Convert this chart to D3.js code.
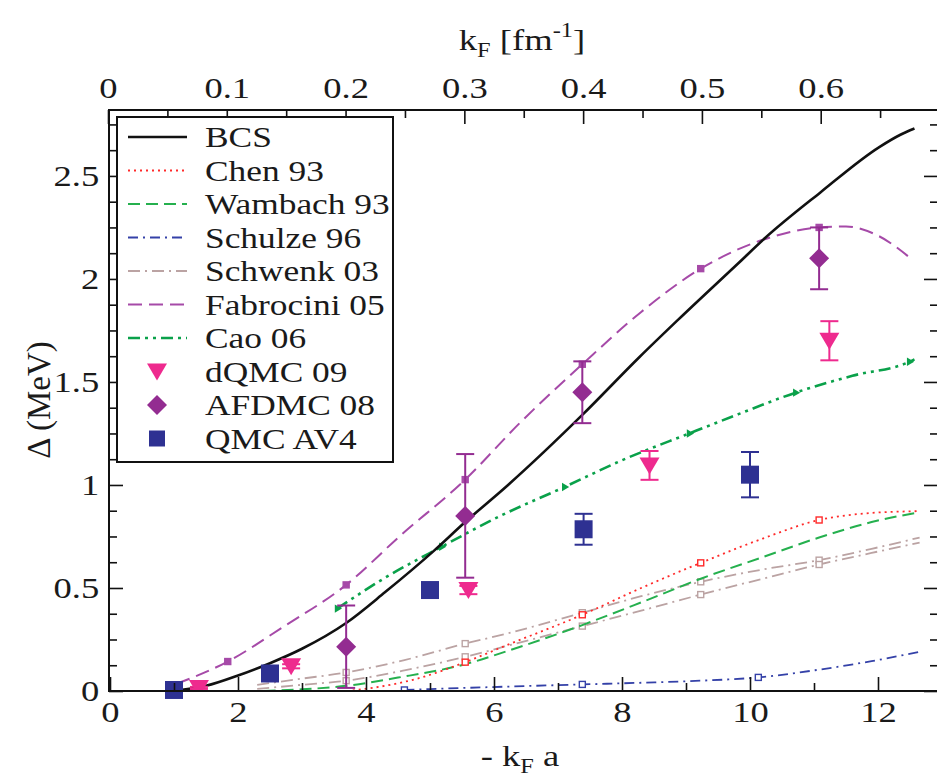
<!DOCTYPE html>
<html>
<head>
<meta charset="utf-8">
<script src="https://cdn.jsdelivr.net/npm/d3@7/dist/d3.min.js"></script>
<style>
  body { margin: 0; background: #fff; }
  svg text { font-family: "Liberation Serif", "Times New Roman", serif; fill: #1a1a1a; }
</style>
</head>
<body>
<svg id="chart" width="937" height="782"></svg>
<script>
// ---- values: [ -kF a , gap in MeV ] ----
const bcs = [[1.0,0.0],[1.5,0.025],[2.0,0.075],[2.5,0.135],[3.0,0.205],[3.69,0.33],[4.3,0.48],[5.06,0.68],[5.55,0.82],
  [6.22,1.0],[7.38,1.34],[8.27,1.62],[8.87,1.8],[9.83,2.08],[10.24,2.2],[11.1,2.42],[12.02,2.64],[12.35,2.7],[12.57,2.73]];
const chen93 = [[3.7,0.0],[4.2,0.02],[4.8,0.06],[5.55,0.14],[6.22,0.225],[7.38,0.37],[8.3,0.5],[9.23,0.622],
  [10.2,0.74],[11.08,0.83],[11.8,0.862],[12.65,0.873]];
const chen93Marks = [[5.55,0.14],[7.38,0.37],[9.23,0.622],[11.08,0.83]];
const wambach93 = [[2.4,0.0],[3.0,0.008],[3.69,0.025],[4.5,0.065],[5.55,0.13],[6.22,0.195],[7.38,0.32],[8.3,0.43],
  [9.23,0.545],[10.2,0.65],[11.08,0.745],[11.9,0.82],[12.65,0.868]];
const schulze96 = [[4.6,0.005],[5.55,0.015],[6.5,0.024],[7.38,0.032],[8.3,0.04],[9.23,0.05],[10.13,0.066],
  [11.0,0.1],[11.9,0.145],[12.65,0.19]];
const schulze96Marks = [[4.6,0.005],[7.38,0.032],[10.13,0.066]];
const schwenk03Hi = [[2.3,0.03],[3.0,0.06],[3.69,0.09],[4.6,0.15],[5.55,0.23],[6.22,0.28],[7.38,0.38],[8.3,0.46],
  [9.23,0.53],[10.2,0.59],[11.08,0.635],[11.9,0.69],[12.65,0.745]];
const schwenk03Lo = [[2.3,0.01],[3.0,0.03],[3.69,0.05],[4.6,0.1],[5.55,0.166],[6.22,0.22],[7.38,0.315],[8.3,0.39],
  [9.23,0.468],[10.2,0.545],[11.08,0.614],[11.9,0.67],[12.65,0.72]];
const schwenk03Marks = [[3.69,0.09],[5.55,0.23],[7.38,0.38],[9.23,0.53],[11.08,0.635],
  [3.69,0.05],[5.55,0.166],[7.38,0.315],[9.23,0.468],[11.08,0.614]];
const fabrocini05 = [[1.04,0.035],[1.84,0.143],[2.7,0.31],[3.69,0.515],[4.54,0.755],[5.55,1.026],[6.4,1.3],
  [7.38,1.586],[8.3,1.84],[9.23,2.05],[10.2,2.19],[11.08,2.25],[11.5,2.255],[12.0,2.21],[12.55,2.09]];
const fabrocini05Marks = [[1.84,0.143],[3.69,0.515],[5.55,1.026],[7.38,1.586],[9.23,2.05],[11.08,2.25]];
const cao06 = [[3.55,0.4],[4.3,0.55],[5.18,0.7],[6.1,0.85],[7.1,0.99],[8.0,1.12],[9.05,1.25],[9.83,1.345],
  [10.71,1.448],[11.6,1.53],[12.49,1.598],[12.57,1.61]];
const cao06Marks = [[3.55,0.4],[5.18,0.7],[7.1,0.99],[9.05,1.25],[10.71,1.448],[12.49,1.598]];

// points with error bars: x, y, err
const dqmc09 = [[1.39,0.015,0.005],[2.83,0.12,0.01],[5.6,0.49,0.02],[8.43,1.095,0.07],[11.24,1.7,0.095]];
const afdmc08 = [[3.69,0.215,0.2],[5.55,0.85,0.3],[7.38,1.45,0.15],[11.08,2.1,0.15]];
const qmcAv4 = [[1.0,0.005,0],[2.5,0.085,0],[5.0,0.49,0],[7.4,0.785,0.075],[10.0,1.05,0.11]];

const xMajor = [0,2,4,6,8,10,12];
const xMinor = [1,3,5,7,9,11];
const kfMajor = [0,0.1,0.2,0.3,0.4,0.5,0.6];
const kfMinor = [0.05,0.15,0.25,0.35,0.45,0.55,0.65];
const yMajor = [0,0.5,1,1.5,2,2.5];
const yMinor = [0.125,0.25,0.375,0.625,0.75,0.875,1.125,1.25,1.375,1.625,1.75,1.875,2.125,2.25,2.375,2.625,2.75];

const legendNames = ["BCS","Chen 93","Wambach 93","Schulze 96","Schwenk 03","Fabrocini 05","Cao 06","dQMC 09","AFDMC 08","QMC AV4"];

// ---- layout ----
const plotL = 109, plotR = 938, plotT = 110, plotB = 691;
const stretch = "scale(1.22,1)";
const svg = d3.select('#chart');

const x = d3.scaleLinear().domain([0, 12]).range([110, 878]);
const kf = d3.scaleLinear().domain([0, 0.6]).range([108, 820.7]);
const y = d3.scaleLinear().domain([0, 2.82]).range([plotB, plotT]);

const colors = {
  bcs: '#111', chen: '#ff2a2a', wambach: '#25b04e', schulze: '#3441a8', schwenk: '#bba3a3',
  fabrocini: '#a64aa8', cao: '#0aa14a', dqmc: '#ee2a8e', afdmc: '#932c91', qmc: '#2e3192'
};
const styles = {
  bcs: {w: 2.6, dash: null},
  chen: {w: 1.8, dash: '2,4'},
  wambach: {w: 2, dash: '12,6'},
  schulze: {w: 1.8, dash: '10,5,2,5'},
  schwenk: {w: 1.8, dash: '12,5,2,5'},
  fabrocini: {w: 2, dash: '14,7'},
  cao: {w: 2.6, dash: '12,5,3,5,3,5'}
};

svg.append('clipPath').attr('id', 'plotClip')
  .append('rect').attr('x', plotL).attr('y', plotT).attr('width', plotR - plotL).attr('height', plotB - plotT);

const plot = svg.append('g').attr('clip-path', 'url(#plotClip)');
const line = d3.line().x(d => x(d[0])).y(d => y(d[1])).curve(d3.curveMonotoneX);

function drawCurve(data, key) {
  plot.append('path').datum(data)
    .attr('d', line)
    .attr('fill', 'none')
    .attr('stroke', colors[key])
    .attr('stroke-width', styles[key].w)
    .attr('stroke-dasharray', styles[key].dash);
}
function drawSmallSquares(data, key, filled) {
  plot.selectAll(null).data(data).enter().append('rect')
    .attr('x', d => x(d[0]) - 3).attr('y', d => y(d[1]) - 3)
    .attr('width', 6).attr('height', 6)
    .attr('fill', filled ? colors[key] : '#fff')
    .attr('stroke', colors[key]).attr('stroke-width', 1.4);
}

drawCurve(schulze96, 'schulze');
drawSmallSquares(schulze96Marks, 'schulze', false);
drawCurve(schwenk03Hi, 'schwenk');
drawCurve(schwenk03Lo, 'schwenk');
drawSmallSquares(schwenk03Marks, 'schwenk', false);
drawCurve(wambach93, 'wambach');
drawCurve(chen93, 'chen');
drawSmallSquares(chen93Marks, 'chen', false);
drawCurve(cao06, 'cao');
plot.selectAll(null).data(cao06Marks).enter().append('path')
  .attr('d', d3.symbol(d3.symbolTriangle, 30))
  .attr('transform', d => 'translate(' + x(d[0]) + ',' + y(d[1]) + ') rotate(-30)')
  .attr('fill', colors.cao);
drawCurve(fabrocini05, 'fabrocini');
drawSmallSquares(fabrocini05Marks, 'fabrocini', true);
drawCurve(bcs, 'bcs');

// error bars
function errBars(data, key) {
  const g = plot.append('g').attr('stroke', colors[key]).attr('stroke-width', 2).attr('fill', 'none');
  data.filter(d => d[2] > 0).forEach(d => {
    g.append('line').attr('x1', x(d[0])).attr('x2', x(d[0])).attr('y1', y(d[1] - d[2])).attr('y2', y(d[1] + d[2]));
    [d[1] - d[2], d[1] + d[2]].forEach(v => {
      g.append('line').attr('x1', x(d[0]) - 9).attr('x2', x(d[0]) + 9).attr('y1', y(v)).attr('y2', y(v));
    });
  });
}
errBars(afdmc08, 'afdmc');
errBars(dqmc09, 'dqmc');
errBars(qmcAv4, 'qmc');

const triDown = 'M-10,-8L10,-8L0,9Z';
const diamond = 'M0,-10L10,0L0,10L-10,0Z';
const square = 'M-9,-9H9V9H-9Z';

plot.selectAll(null).data(afdmc08).enter().append('path')
  .attr('d', diamond).attr('transform', d => 'translate(' + x(d[0]) + ',' + y(d[1]) + ')')
  .attr('fill', colors.afdmc);
plot.selectAll(null).data(dqmc09).enter().append('path')
  .attr('d', triDown).attr('transform', d => 'translate(' + x(d[0]) + ',' + y(d[1]) + ')')
  .attr('fill', colors.dqmc);
svg.selectAll(null).data(qmcAv4).enter().append('path')
  .attr('d', square).attr('transform', d => 'translate(' + x(d[0]) + ',' + y(d[1]) + ')')
  .attr('fill', colors.qmc);

// ---- axes ----
function styleAxis(g) {
  g.select('.domain').remove();
  g.selectAll('line').attr('stroke', '#111').attr('stroke-width', 1.6);
  g.selectAll('text').attr('font-size', 30).attr('fill', '#1a1a1a')
    .attr('font-family', '"Liberation Serif", serif');
}
const fmt = d => d === 0 ? '0' : String(d);

svg.append('g').attr('transform', 'translate(0,' + plotB + ')')
  .call(d3.axisBottom(x).tickValues(xMajor).tickSize(-14).tickPadding(10).tickFormat(fmt))
  .call(styleAxis)
  .call(g => g.selectAll('text').attr('transform', stretch));
svg.append('g').attr('transform', 'translate(0,' + plotB + ')')
  .call(d3.axisBottom(x).tickValues(xMinor).tickSize(-8).tickFormat(''))
  .call(styleAxis);

svg.append('g').attr('transform', 'translate(0,' + plotT + ')')
  .call(d3.axisTop(kf).tickValues(kfMajor).tickSize(-14).tickPadding(12).tickFormat(fmt))
  .call(styleAxis)
  .call(g => g.selectAll('text').attr('transform', stretch));
svg.append('g').attr('transform', 'translate(0,' + plotT + ')')
  .call(d3.axisTop(kf).tickValues(kfMinor).tickSize(-8).tickFormat(''))
  .call(styleAxis);

svg.append('g').attr('transform', 'translate(' + plotL + ',0)')
  .call(d3.axisLeft(y).tickValues(yMajor).tickSize(-14).tickPadding(8).tickFormat(fmt))
  .call(styleAxis)
  .call(g => g.selectAll('text').attr('transform', stretch));
svg.append('g').attr('transform', 'translate(' + plotL + ',0)')
  .call(d3.axisLeft(y).tickValues(yMinor).tickSize(-8).tickFormat(''))
  .call(styleAxis);
svg.append('g').attr('transform', 'translate(' + plotR + ',0)')
  .call(d3.axisRight(y).tickValues(yMajor).tickSize(-14).tickFormat(''))
  .call(styleAxis);
svg.append('g').attr('transform', 'translate(' + plotR + ',0)')
  .call(d3.axisRight(y).tickValues(yMinor).tickSize(-8).tickFormat(''))
  .call(styleAxis);

svg.append('rect').attr('x', plotL).attr('y', plotT).attr('width', plotR - plotL).attr('height', plotB - plotT)
  .attr('fill', 'none').attr('stroke', '#111').attr('stroke-width', 2);

// ---- axis titles ----
const topTitle = svg.append('g').attr('transform', 'translate(522,50)')
  .append('text').attr('text-anchor', 'middle').attr('font-size', 30).attr('transform', stretch);
topTitle.append('tspan').text('k');
topTitle.append('tspan').attr('font-size', 20).attr('dy', 7).text('F');
topTitle.append('tspan').attr('dy', -7).text(' [fm');
topTitle.append('tspan').attr('font-size', 20).attr('dy', -13).text('-1');
topTitle.append('tspan').attr('dy', 13).text(']');

const botTitle = svg.append('g').attr('transform', 'translate(520,766)')
  .append('text').attr('text-anchor', 'middle').attr('font-size', 30).attr('transform', stretch);
botTitle.append('tspan').text('- k');
botTitle.append('tspan').attr('font-size', 20).attr('dy', 7).text('F');
botTitle.append('tspan').attr('dy', -7).text(' a');

svg.append('text').attr('transform', 'translate(50,400) rotate(-90)')
  .attr('text-anchor', 'middle').attr('font-size', 33).text('\u0394 (MeV)');

// ---- legend ----
const lg = svg.append('g');
lg.append('rect').attr('x', 117).attr('y', 117).attr('width', 276).attr('height', 345)
  .attr('fill', '#fff').attr('stroke', '#111').attr('stroke-width', 2);
const lineKeys = ['bcs','chen','wambach','schulze','schwenk','fabrocini','cao'];
const markKeys = ['dqmc','afdmc','qmc'];
const markPaths = [triDown, diamond, 'M-8,-8H8V8H-8Z'];
legendNames.forEach((name, i) => {
  const cy = 137 + i * 33.5;
  if (i < lineKeys.length) {
    const k = lineKeys[i];
    lg.append('line').attr('x1', 128).attr('x2', 187).attr('y1', cy).attr('y2', cy)
      .attr('stroke', colors[k]).attr('stroke-width', styles[k].w).attr('stroke-dasharray', styles[k].dash);
  } else {
    const j = i - lineKeys.length;
    lg.append('path').attr('d', markPaths[j]).attr('transform', 'translate(157,' + cy + ')')
      .attr('fill', colors[markKeys[j]]);
  }
  lg.append('g').attr('transform', 'translate(205,' + (cy + 10) + ')')
    .append('text').attr('font-size', 29).attr('transform', stretch).text(name);
});
</script>
</body>
</html>
